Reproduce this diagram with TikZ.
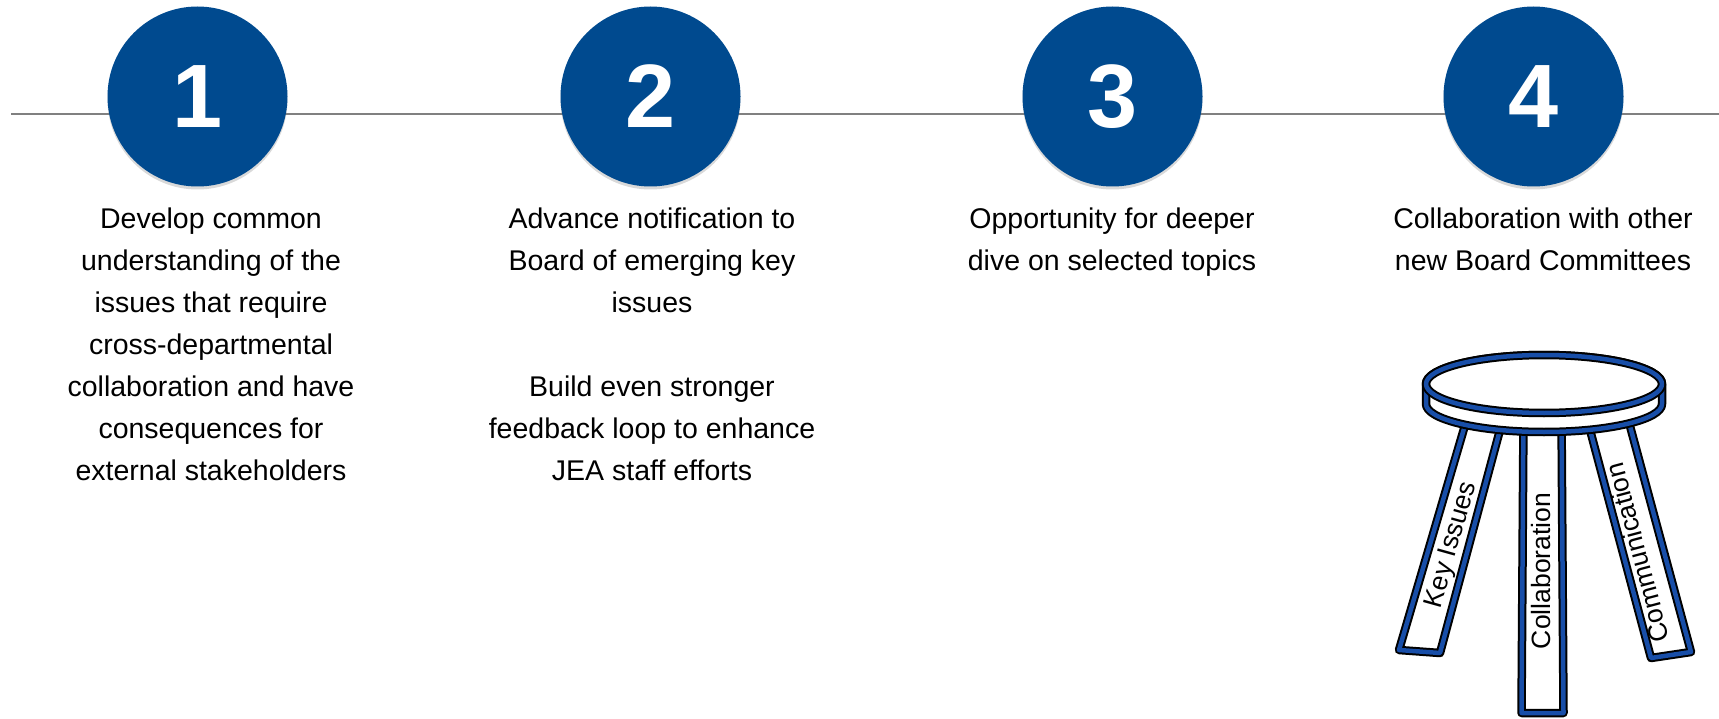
\documentclass[tikz,border=0pt]{standalone}
\usepackage{fontspec}
\setmainfont{Liberation Sans}
\usetikzlibrary{shadows}
\definecolor{stepblue}{RGB}{0,74,143}
\definecolor{stoolblue}{RGB}{24,78,168}
\definecolor{rulegray}{RGB}{128,128,128}

\begin{document}
\begin{tikzpicture}[x=1pt,y=-1pt,inner sep=0pt,outer sep=0pt,
stepcircle/.style={circle,fill=stepblue,minimum size=180pt,text=white,font=\fontsize{90}{90}\selectfont\bfseries,
  drop shadow={shadow xshift=0pt,shadow yshift=-3pt,opacity=.3}},
steptext/.style={anchor=north,align=center,font=\fontsize{28.5}{42}\selectfont},
stoolline/.style={draw=black,line width=2pt,double=stoolblue,double distance=4.5pt,line join=round,fill=white},
leglabel/.style={font=\fontsize{26.5}{30}\selectfont}]

\useasboundingbox (0,0) rectangle (1719,719);

\coordinate (lstart) at (11,114);
\coordinate (lend) at (1719,114);
\draw[rulegray,line width=2pt] (lstart) -- (lend);

\draw (197.5,96.5) node[stepcircle] (step1) {1};
\draw (650.5,96.5) node[stepcircle] (step2) {2};
\draw (1112.5,96.5) node[stepcircle] (step3) {3};
\draw (1533.5,96.5) node[stepcircle] (step4) {4};

\draw (211,208) node[steptext] (text1) {Develop common\\understanding of the\\issues that require\\cross-departmental\\collaboration and have\\consequences for\\external stakeholders};
\draw (652,208) node[steptext] (text2) {Advance notification to\\Board of emerging key\\issues\\[42pt]Build even stronger\\feedback loop to enhance\\JEA staff efforts};
\draw (1112,208) node[steptext] (text3) {Opportunity for deeper\\dive on selected topics};
\draw (1543,208) node[steptext] (text4) {Collaboration with other\\new Board Committees};

% stool legs
\draw[stoolline] (1468,415) -- (1504,415) -- (1440,653) -- (1399,650) -- cycle;
\draw[stoolline] (1523.5,415) -- (1561.5,415) -- (1563.5,713) -- (1521.5,713) -- cycle;
\draw[stoolline] (1586,415) -- (1627,415) -- (1691,652) -- (1651,658) -- cycle;

% seat
\draw[stoolline] (1426,384) arc[start angle=180,end angle=360,x radius=118,y radius=29]
  -- ++(0,20) arc[start angle=0,end angle=180,x radius=118,y radius=28] -- cycle;
\draw[stoolline] (1544,384) ellipse[x radius=118,y radius=29];

\draw (1452,545) node[leglabel,rotate=74.4] (keyissues) {Key Issues};
\draw (1541,571) node[leglabel,rotate=90] (collab) {Collaboration};
\draw (1637,553) node[leglabel,rotate=104.9] (commun) {Communication};
\end{tikzpicture}
\end{document}
